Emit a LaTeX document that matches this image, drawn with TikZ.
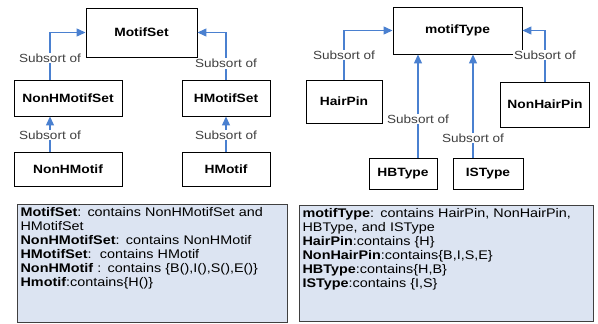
\documentclass[tikz,border=0pt]{standalone}
\usepackage{fontspec}
\setmainfont[FakeStretch=1.15]{Liberation Sans}
\usepackage{tikz}
\usetikzlibrary{arrows.meta,positioning}
\definecolor{subblue}{HTML}{4A80D0}
\definecolor{notefill}{HTML}{DCE4F2}

\begin{document}
\begin{tikzpicture}[
    x=1pt,y=-1pt,
    sort/.style={draw=black,line width=0.9pt,fill=white,inner sep=0pt,font=\fontsize{12}{13}\selectfont\bfseries},
    sub/.style={-{Triangle[length=9pt,width=8pt]},draw=subblue,line width=1.2pt},
    lbl/.style={fill=white,inner sep=1pt,text=black!75,font=\fontsize{11.8}{13}\selectfont},
    note/.style={draw=black!75,line width=1.2pt,fill=notefill,anchor=north west,align=left,
      inner xsep=3pt,inner ysep=3pt,text width=#1,font=\fontsize{12.5}{14}\selectfont}
  ]
    \useasboundingbox (0,0) rectangle (598,324);

    % left hierarchy
    \node[sort,minimum width=111pt,minimum height=49pt] (motifset) at (141.5,32.5) {MotifSet};
    \node[sort,minimum width=108pt,minimum height=36pt] (nonhset) at (68,98) {NonHMotifSet};
    \node[sort,minimum width=88pt,minimum height=36pt] (hset) at (226,98) {HMotifSet};
    \node[sort,minimum width=108pt,minimum height=34pt] (nonhmotif) at (68,169) {NonHMotif};
    \node[sort,minimum width=88pt,minimum height=34pt] (hmotif) at (226,169) {HMotif};

    \draw[sub] ([xshift=-18pt]nonhset.north) |- node[lbl,pos=0.23] {Subsort of} (motifset.west);
    \draw[sub] (hset.north) |- node[lbl,pos=0.17] {Subsort of} (motifset.east);
    \draw[sub] ([xshift=-18pt]nonhmotif.north) -- node[lbl,pos=0.47] {Subsort of} ([xshift=-18pt]nonhset.south);
    \draw[sub] (hmotif.north) -- node[lbl,pos=0.47] {Subsort of} (hset.south);

    % right hierarchy
    \node[sort,minimum width=129pt,minimum height=47pt] (motiftype) at (457.5,30.5) {motifType};
    \node[sort,minimum width=76pt,minimum height=43pt] (hairpin) at (344,101.5) {HairPin};
    \node[sort,minimum width=89pt,minimum height=45pt] (nonhairpin) at (545,104.5) {NonHairPin};
    \node[sort,minimum width=68pt,minimum height=31pt] (hbtype) at (403,173.5) {HBType};
    \node[sort,minimum width=70pt,minimum height=31pt] (istype) at (488,173.5) {ISType};

    \draw[sub] (hairpin.north) |- node[lbl,pos=0.25] {Subsort of} (motiftype.west);
    \draw[sub] (nonhairpin.north) |- node[lbl,pos=0.26] {Subsort of} (motiftype.east);
    \draw[sub] ([xshift=15pt]hbtype.north) -- node[lbl,pos=0.375] {Subsort of} ([xshift=15pt]hbtype.north |- motiftype.south);
    \draw[sub] ([xshift=-15pt]istype.north) -- node[lbl,pos=0.19] {Subsort of} ([xshift=-15pt]istype.north |- motiftype.south);

    % descriptions
    \node[note=264pt] (leftnote) at (17,204) {%
      \textbf{MotifSet}: contains NonHMotifSet and\\
      HMotifSet\\
      \textbf{NonHMotifSet}: contains NonHMotif\\
      \textbf{HMotifSet}:\ \ contains HMotif\\
      \textbf{NonHMotif} : contains \{B(),I(),S(),E()\}\\
      \textbf{Hmotif}:contains\{H()\}\rule[-33pt]{0pt}{33pt}};
    \node[note=288pt] (rightnote) at (299,205) {%
      \textbf{motifType}: contains HairPin, NonHairPin,\\
      HBType, and ISType\\
      \textbf{HairPin}:contains \{H\}\\
      \textbf{NonHairPin}:contains\{B,I,S,E\}\\
      \textbf{HBType}:contains\{H,B\}\\
      \textbf{ISType}:contains \{I,S\}\rule[-31pt]{0pt}{31pt}};
  \end{tikzpicture}
\end{document}
